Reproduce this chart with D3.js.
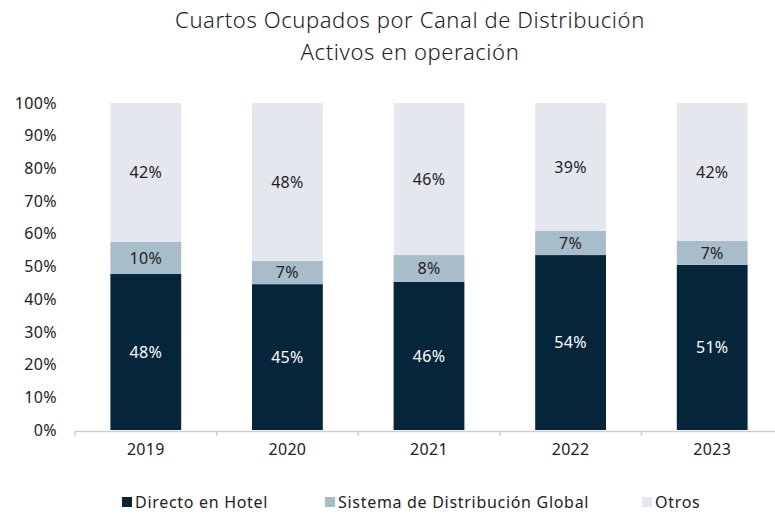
<!DOCTYPE html>
<html>
<head>
<meta charset="utf-8">
<script src="https://cdn.jsdelivr.net/npm/d3@7"></script>
<style>
  body { margin: 0; background: #fff; }
  text { font-family: "Noto Sans", "Open Sans", sans-serif; }
</style>
</head>
<body>
<div id="chart"></div>
<script>
// data
const years = ["2019", "2020", "2021", "2022", "2023"];
const directo = [47.7, 44.6, 45.3, 53.5, 50.5];
const sistema = [9.8, 7.1, 8.2, 7.4, 7.3];
const otros = [42.5, 48.3, 46.5, 39.1, 42.2];
const directoLabels = ["48%", "45%", "46%", "54%", "51%"];
const sistemaLabels = ["10%", "7%", "8%", "7%", "7%"];
const otrosLabels = ["42%", "48%", "46%", "39%", "42%"];
const seriesNames = ["Directo en Hotel", "Sistema de Distribución Global", "Otros"];
const yTicks = [0, 10, 20, 30, 40, 50, 60, 70, 80, 90, 100];

const colors = ["#05263a", "#a8bdca", "#e4e8ee"];
const textColors = ["#ffffff", "#222222", "#222222"];

const width = 775, height = 514;
const margin = {top: 103, right: -8, bottom: 84, left: 75};

const svg = d3.select("#chart").append("svg")
    .attr("width", width)
    .attr("height", height);

// title
["Cuartos Ocupados por Canal de Distribución", "Activos en operación"].forEach((t, i) => {
    svg.append("text")
        .attr("x", 410).attr("y", 28 + i * 32)
        .attr("text-anchor", "middle")
        .style("font-size", "22px").style("font-weight", 300)
        .style("letter-spacing", "0.6px")
        .attr("fill", "#222")
        .text(t);
});

const x = d3.scaleBand()
    .domain(years)
    .range([margin.left, width - margin.right])
    .paddingInner(0.5)
    .paddingOuter(0.25);

const y = d3.scaleLinear()
    .domain([0, 100])
    .range([height - margin.bottom, margin.top]);

// stack
const rows = years.map((yr, i) => ({
    year: yr, s0: directo[i], s1: sistema[i], s2: otros[i], i: i
}));
const stack = d3.stack().keys(["s0", "s1", "s2"]);
const layers = stack(rows);
const labelSets = [directoLabels, sistemaLabels, otrosLabels];

const g = svg.append("g");

layers.forEach((layer, k) => {
    g.selectAll(".bar" + k)
        .data(layer)
        .enter()
        .append("rect")
        .attr("x", d => x(d.data.year))
        .attr("y", d => y(d[1]))
        .attr("width", x.bandwidth())
        .attr("height", d => y(d[0]) - y(d[1]))
        .attr("fill", colors[k]);

    g.selectAll(".lab" + k)
        .data(layer)
        .enter()
        .append("text")
        .attr("x", d => x(d.data.year) + x.bandwidth() / 2)
        .attr("y", d => (y(d[0]) + y(d[1])) / 2)
        .attr("dy", "0.35em")
        .attr("text-anchor", "middle")
        .style("font-size", "16px")
        .style("letter-spacing", "0.3px")
        .attr("fill", textColors[k])
        .text(d => labelSets[k][d.data.i]);
});

// y axis labels
svg.append("g")
    .selectAll("text")
    .data(yTicks)
    .enter()
    .append("text")
    .attr("x", 57)
    .attr("y", d => y(d))
    .attr("dy", "0.35em")
    .attr("text-anchor", "end")
    .style("font-size", "16px")
    .style("letter-spacing", "0.4px")
    .attr("fill", "#222")
    .text(d => d + "%");

// x axis
const xAxis = d3.axisBottom(x).tickSize(0).tickPadding(13);
const xg = svg.append("g")
    .attr("transform", `translate(0, ${y(0) + 1})`)
    .call(xAxis);
xg.select(".domain").attr("stroke", "#d0d0d0").attr("stroke-width", 1.5);
xg.selectAll(".tick text")
    .style("font-size", "16px")
    .style("letter-spacing", "0.3px")
    .style("font-family", "'Noto Sans', 'Open Sans', sans-serif")
    .attr("fill", "#222");

// category boundary ticks
const step = x.step();
xg.selectAll(".bound")
    .data([margin.left].concat(years.slice(1).map(d => x(d) - (step - x.bandwidth()) / 2)))
    .enter()
    .append("line")
    .attr("x1", d => d).attr("x2", d => d)
    .attr("y1", 0).attr("y2", 5)
    .attr("stroke", "#d0d0d0")
    .attr("stroke-width", 1.5);

// legend
const legendX = [122, 325, 642];
const legend = svg.append("g");
seriesNames.forEach((name, k) => {
    legend.append("rect")
        .attr("x", legendX[k]).attr("y", 497)
        .attr("width", 10).attr("height", 10)
        .attr("fill", colors[k]);
    legend.append("text")
        .attr("x", legendX[k] + 13).attr("y", 502)
        .attr("dy", "0.35em")
        .style("font-size", "16px")
        .style("letter-spacing", "0.7px")
        .attr("fill", "#222")
        .text(name);
});
</script>
</body>
</html>
